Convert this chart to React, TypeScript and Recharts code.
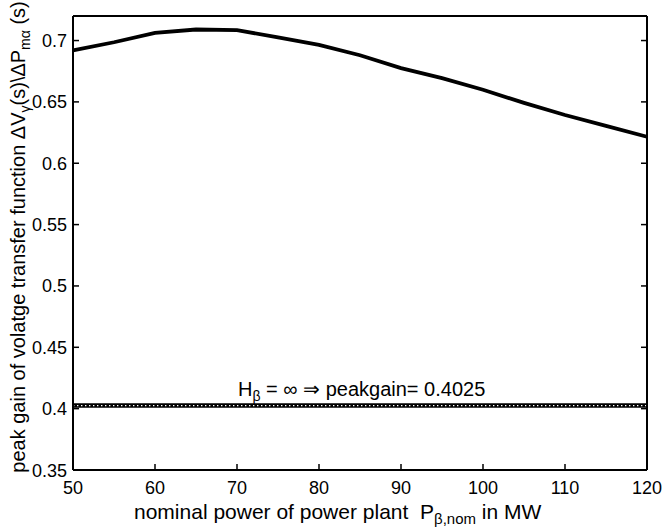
import { LineChart, Line, XAxis, YAxis } from "recharts"

const powerMW = [50, 55, 60, 65, 70, 75, 80, 85, 90, 95, 100, 105, 110, 115, 120]
const peakGain = [0.692, 0.6986, 0.7063, 0.709, 0.7085, 0.7025, 0.6965, 0.688, 0.6775, 0.6693, 0.6599, 0.6492, 0.6393, 0.6305, 0.6216]
const infinitePeakGain = 0.4025
const xTicks = [50, 60, 70, 80, 90, 100, 110, 120]
const yTicks = [0.35, 0.4, 0.45, 0.5, 0.55, 0.6, 0.65, 0.7]

const curve = powerMW.map((p, i) => ({ p, gain: peakGain[i] }))
const flat = [
  { p: powerMW[0], gain: infinitePeakGain },
  { p: powerMW[powerMW.length - 1], gain: infinitePeakGain },
]

const W = 662
const H = 528
const LEFT = 73
const RIGHT = 647
const TOP = 16
const BOTTOM = 470
const TICK = 6
const font = "'Liberation Sans', Arial, sans-serif"

const BottomTick = (props: any) => {
  const { x, payload } = props
  return (
    <g>
      <line x1={x} x2={x} y1={BOTTOM} y2={BOTTOM - TICK} stroke="#000" strokeWidth={1.5} />
      <text x={x} y={BOTTOM + 24} textAnchor="middle" fontSize={18} fontFamily={font} fill="#000">
        {payload.value}
      </text>
    </g>
  )
}

const TopTick = (props: any) => {
  const { x } = props
  return <line x1={x} x2={x} y1={TOP} y2={TOP + TICK} stroke="#000" strokeWidth={1.5} />
}

const LeftTick = (props: any) => {
  const { y, payload } = props
  return (
    <g>
      <line x1={LEFT} x2={LEFT + TICK} y1={y} y2={y} stroke="#000" strokeWidth={1.5} />
      <text x={LEFT - 6} y={y + 6.5} textAnchor="end" fontSize={18} fontFamily={font} fill="#000">
        {String(payload.value)}
      </text>
    </g>
  )
}

const RightTick = (props: any) => {
  const { y } = props
  return <line x1={RIGHT} x2={RIGHT - TICK} y1={y} y2={y} stroke="#000" strokeWidth={1.5} />
}

export default function App() {
  return (
    <div style={{ position: "absolute", left: 0, top: 0, width: W, height: H, background: "#fff" }}>
      <LineChart
        width={W}
        height={H}
        margin={{ top: TOP - 1, right: W - RIGHT - 1, bottom: H - BOTTOM - 1, left: LEFT - 1 }}
      >
        <XAxis
          xAxisId="b"
          dataKey="p"
          type="number"
          domain={[50, 120]}
          ticks={xTicks}
          height={1}
          tickSize={0}
          tickLine={false}
          axisLine={{ stroke: "#000", strokeWidth: 2 }}
          tick={<BottomTick />}
          interval={0}
        />
        <XAxis
          xAxisId="t"
          orientation="top"
          dataKey="p"
          type="number"
          domain={[50, 120]}
          ticks={xTicks}
          height={1}
          tickSize={0}
          tickLine={false}
          axisLine={{ stroke: "#000", strokeWidth: 2 }}
          tick={<TopTick />}
          interval={0}
        />
        <YAxis
          yAxisId="l"
          type="number"
          domain={[0.35, 0.72]}
          ticks={yTicks}
          width={1}
          tickSize={0}
          tickLine={false}
          axisLine={{ stroke: "#000", strokeWidth: 2 }}
          tick={<LeftTick />}
          interval={0}
          allowDataOverflow
        />
        <YAxis
          yAxisId="r"
          orientation="right"
          type="number"
          domain={[0.35, 0.72]}
          ticks={yTicks}
          width={1}
          tickSize={0}
          tickLine={false}
          axisLine={{ stroke: "#000", strokeWidth: 2 }}
          tick={<RightTick />}
          interval={0}
          allowDataOverflow
        />
        <Line
          xAxisId="b"
          yAxisId="l"
          data={curve}
          dataKey="gain"
          stroke="#000"
          strokeWidth={3.8}
          dot={false}
          type="linear"
          isAnimationActive={false}
        />
        <Line
          xAxisId="b"
          yAxisId="l"
          data={flat}
          dataKey="gain"
          stroke="#000"
          strokeWidth={4.5}
          dot={false}
          type="linear"
          isAnimationActive={false}
        />
        <Line
          xAxisId="b"
          yAxisId="l"
          data={flat}
          dataKey="gain"
          stroke="#fff"
          strokeWidth={1.4}
          strokeDasharray="1.4 2.6"
          dot={false}
          type="linear"
          isAnimationActive={false}
        />
      </LineChart>
      <svg
        width={W}
        height={H}
        style={{ position: "absolute", left: 0, top: 0, pointerEvents: "none" }}
        fontFamily={font}
        fill="#000"
      >
        <text x={238} y={396} fontSize={20}>
          H<tspan fontSize={14} dy={5}>β</tspan>
          <tspan dy={-5}> = ∞ ⇒ peakgain= 0.4025</tspan>
        </text>
        <text x={134} y={519} fontSize={21}>
          nominal power of power plant{"\u00a0\u00a0"}P<tspan fontSize={15} dy={5}>β,nom</tspan>
          <tspan dy={-5}> in MW</tspan>
        </text>
        <text transform="translate(25,237) rotate(-90)" fontSize={20} textAnchor="middle">
          peak gain of volatge transfer function ΔV<tspan fontSize={14} dy={5}>γ</tspan>
          <tspan dy={-5}>(s)\ΔP</tspan>
          <tspan fontSize={14} dy={5}>mα</tspan>
          <tspan dy={-5}> (s)</tspan>
        </text>
      </svg>
    </div>
  )
}
